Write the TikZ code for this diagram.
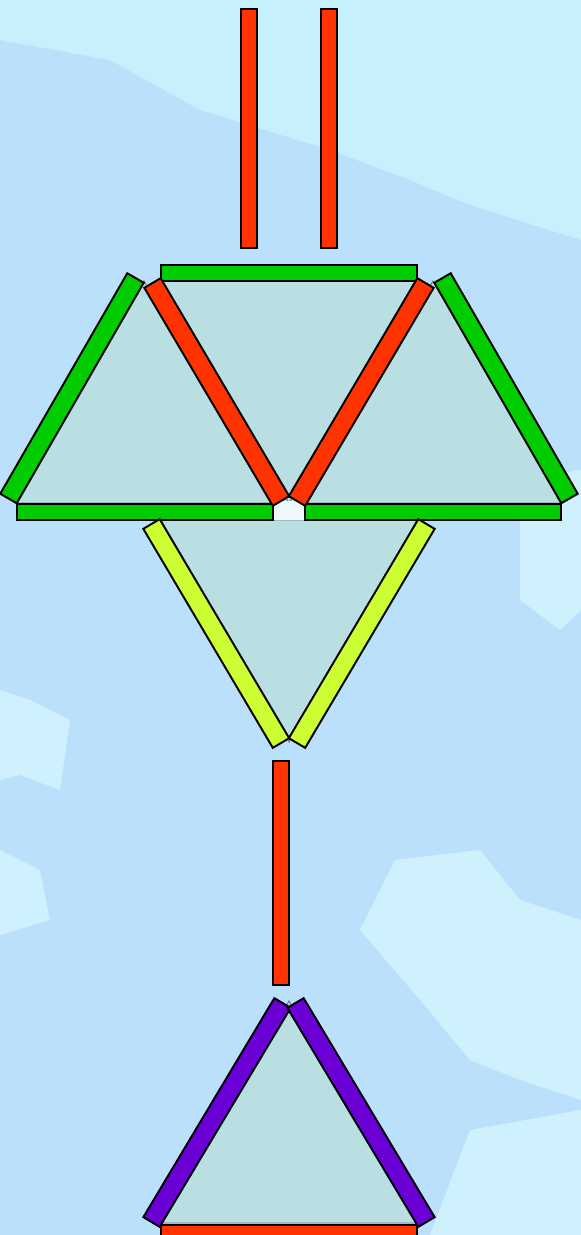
\documentclass[tikz,border=0pt]{standalone}
\usepackage{xcolor}
\usetikzlibrary{calc}
\definecolor{barRed}{RGB}{255,51,0}
\definecolor{barGreen}{RGB}{0,204,0}
\definecolor{barLime}{RGB}{204,255,51}
\definecolor{barPurple}{RGB}{106,0,214}
\definecolor{panelFill}{RGB}{186,223,226}
\definecolor{skyBlue}{RGB}{187,224,251}
\definecolor{skyCyan}{RGB}{198,241,252}
\definecolor{flakeLight}{RGB}{214,246,254}
\definecolor{jointWhite}{RGB}{238,249,253}
\newcommand{\halfw}{0.19cm}
\newcommand{\member}[3]{%
    \draw[#1] ($(#2)!\halfw!90:(#3)$) -- ($(#2)!\halfw!-90:(#3)$)
        -- ($(#3)!\halfw!90:(#2)$) -- ($(#3)!\halfw!-90:(#2)$) -- cycle;}
\tikzset{
    memberbox/.style={
        draw=black,
        line width=1.1pt,
        line join=miter
    },
    redbar/.style={memberbox, fill=barRed},
    greenbar/.style={memberbox, fill=barGreen},
    limebar/.style={memberbox, fill=barLime},
    purplebar/.style={memberbox, fill=barPurple},
    panel/.style={fill=panelFill, draw=black!55, line width=0.5pt},
    flake/.style={fill=flakeLight, draw=none, opacity=0.75}
}
\begin{document}
\begin{tikzpicture}[x=0.02cm, y=-0.02cm]
    \useasboundingbox (0,0) rectangle (581,1235);
    \clip (0,0) rectangle (581,1235);
    % background
    \fill[skyBlue] (0,0) rectangle (581,1235);
    \fill[skyCyan] (0,0) -- (581,0) -- (581,240) -- (470,205) -- (410,180)
        -- (330,150) -- (200,110) -- (110,60) -- (0,40) -- cycle;
    \fill[flake] (520,480) -- (581,470) -- (581,610) -- (560,630) -- (520,600) -- cycle;
    \fill[flake] (0,690) -- (30,700) -- (70,720) -- (60,790) -- (20,775) -- (0,780) -- cycle;
    \fill[flake] (0,850) -- (40,870) -- (50,920) -- (0,935) -- cycle;
    \fill[flake] (395,860) -- (480,850) -- (520,900) -- (581,920) -- (581,1100)
        -- (520,1080) -- (470,1060) -- (420,1000) -- (360,930) -- cycle;
    \fill[flake] (470,1130) -- (581,1110) -- (581,1235) -- (430,1235) -- cycle;

    % upper frame vertices
    \coordinate (lTop) at (144,281);
    \coordinate (lLeft) at (16,503);
    \coordinate (lRight) at (272,503);
    \coordinate (cLeft) at (161,281);
    \coordinate (cRight) at (417,281);
    \coordinate (cBot) at (289,503);
    \coordinate (rTop) at (433,281);
    \coordinate (rLeft) at (305,503);
    \coordinate (rRight) at (561,503);
    % lower frames
    \coordinate (vLeft) at (161,520);
    \coordinate (vRight) at (417,520);
    \coordinate (vBot) at (289,742);
    \coordinate (bTop) at (289,1001);
    \coordinate (bLeft) at (161,1223);
    \coordinate (bRight) at (417,1223);

    % panels
    \draw[panel] (lTop) -- (lLeft) -- (lRight) -- cycle;
    \draw[panel] (cLeft) -- (cRight) -- (cBot) -- cycle;
    \draw[panel] (rTop) -- (rLeft) -- (rRight) -- cycle;
    \draw[panel] (vLeft) -- (vRight) -- (vBot) -- cycle;
    \draw[panel] (bTop) -- (bLeft) -- (bRight) -- cycle;
    \fill[jointWhite] (273,501) rectangle (305,520);

    % straight members
    \draw[redbar] (241,9) rectangle (257,248);
    \draw[redbar] (321,9) rectangle (337,248);
    \draw[greenbar] (161,265) rectangle (417,281);
    \draw[greenbar] (17,504) rectangle (273,520);
    \draw[greenbar] (305,504) rectangle (561,520);
    \draw[redbar] (273,761) rectangle (289,985);
    \draw[redbar] (161,1225) rectangle (417,1250);

    % diagonal members
    \member{greenbar}{135.5,278}{8.5,498.5}
    \member{redbar}{152.5,283}{281,501}
    \member{redbar}{425.5,283}{297,501}
    \member{greenbar}{442.5,278}{569.5,498.5}
    \member{limebar}{151.5,524}{281,743}
    \member{limebar}{426.5,524}{297,743}
    \member{purplebar}{282.5,1003}{151.5,1222}
    \member{purplebar}{295.5,1003}{426.5,1222}
\end{tikzpicture}
\end{document}
